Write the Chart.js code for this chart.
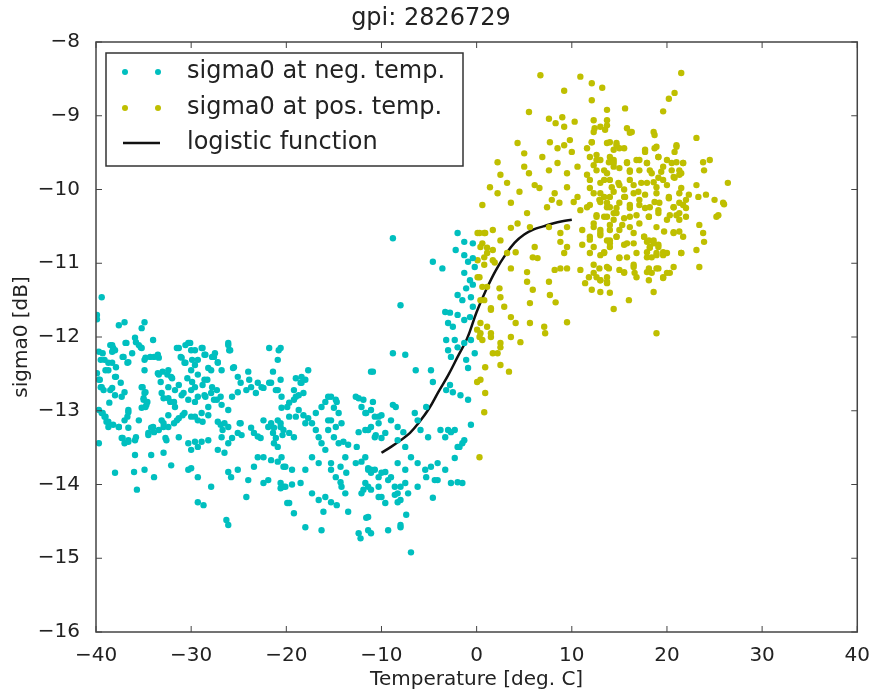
<!DOCTYPE html>
<html>
<head>
<meta charset="utf-8">
<script src="https://cdn.jsdelivr.net/npm/chart.js@4/dist/chart.umd.min.js"></script>
<style>
html, body { margin: 0; padding: 0; background: #fff; }
</style>
</head>
<body>
<canvas id="myChart" width="874" height="694"></canvas>
<script>
// sigma0 [dB] vs temperature
const negPoints = [
  [-39.4,-11.46],[-39.9,-11.70],[-39.9,-11.76],[-37.6,-11.84],[-37.0,-11.80],[-34.9,-11.80],[-35.2,-11.88],[-34.0,-12.04],
  [-35.9,-12.01],[-35.5,-12.11],[-35.2,-12.15],[-36.8,-12.08],[-38.3,-12.11],[-38.0,-12.18],[-39.7,-12.2],[-39.1,-12.31],
  [-37.1,-12.27],[-36.6,-12.34],[-38.3,-12.35],[-38.7,-12.45],[-38.0,-12.54],[-39.9,-12.49],[-39.6,-12.58],[-39.4,-12.68],
  [-34.9,-12.31],[-33.9,-12.27],[-33.4,-12.28],[-34.9,-12.45],[-33.4,-12.51],[-32.4,-12.45],[-32.1,-12.54],[-31.3,-12.15],
  [-30.3,-12.08],[-30.0,-12.18],[-28.9,-12.15],[-31.0,-12.28],[-30.7,-12.35],[-29.3,-12.31],[-28.6,-12.24],[-27.6,-12.27],
  [-27.2,-12.34],[-26.1,-12.08],[-26.0,-12.18],[-30.0,-12.45],[-29.3,-12.51],[-28.6,-12.58],[-27.9,-12.45],[-25.5,-12.41],
  [-35.2,-12.68],[-34.9,-12.76],[-35.0,-12.85],[-34.7,-12.92],[-35.2,-12.96],[-37.0,-12.75],[-37.3,-12.81],[-38.3,-12.69],
  [-38.0,-12.79],[-38.6,-12.89],[-33.1,-12.76],[-32.4,-12.83],[-31.8,-12.88],[-31.0,-12.79],[-30.0,-12.72],[-29.3,-12.81],
  [-28.6,-12.79],[-27.9,-12.76],[-27.6,-12.85],[-26.9,-12.81],[-25.1,-12.54],[-24.8,-12.62],[-24.0,-12.47],[-23.7,-12.68],
  [-23.0,-12.62],[-22.4,-12.69],[-21.6,-12.62],[-20.9,-12.72],[-21.8,-12.15],[-20.8,-12.18],[-20.9,-12.31],[-21.4,-12.47],
  [-39.7,-12.99],[-39.4,-13.03],[-39.1,-13.08],[-38.9,-13.15],[-38.7,-13.22],[-36.6,-13.02],[-37.0,-13.13],[-34.2,-13.23],
  [-34.5,-13.3],[-33.9,-13.29],[-37.6,-13.22],[-37.3,-13.37],[-37.0,-13.44],[-39.7,-13.44],[-33.1,-13.13],[-32.9,-13.22],
  [-32.4,-13.06],[-31.8,-13.17],[-31.3,-13.1],[-30.7,-13.03],[-30.0,-13.08],[-29.3,-13.13],[-28.9,-13.03],[-28.2,-13.06],
  [-27.2,-13.15],[-26.9,-13.19],[-26.5,-13.17],[-26.1,-13.22],[-26.7,-13.26],[-24.8,-13.17],[-25.1,-13.3],[-23.7,-13.23],
  [-23.4,-13.3],[-23.0,-13.35],[-22.7,-13.37],[-22.4,-13.13],[-21.9,-13.22],[-21.6,-13.17],[-21.3,-13.23],[-20.9,-13.13],
  [-20.6,-13.22],[-21.4,-13.3],[-21.1,-13.37],[-20.4,-13.33],[-21.3,-13.44],[-20.9,-13.49],[-19.9,-12.95],[-19.7,-13.08],
  [-36.6,-13.42],[-35.9,-13.4],[-32.6,-13.4],[-32.9,-13.57],[-30.3,-13.44],[-30.0,-13.53],[-29.3,-13.49],[-28.9,-13.42],
  [-27.2,-13.53],[-26.5,-13.57],[-26.1,-13.44],[-35.9,-13.6],[-34.2,-13.6],[-32.1,-13.74],[-30.3,-13.8],[-30.0,-13.78],
  [-38.0,-13.84],[-36.0,-13.83],[-34.9,-13.8],[-33.9,-13.9],[-29.3,-13.9],[-27.9,-14.03],[-26.1,-13.83],[-25.8,-13.9],
  [-25.1,-13.8],[-24.0,-13.94],[-23.4,-13.76],[-35.7,-14.07],[-29.3,-14.24],[-28.7,-14.28],[-26.3,-14.48],[-26.1,-14.55],
  [-24.2,-14.17],[-22.4,-13.98],[-21.9,-13.94],[-20.6,-14.05],[-20.3,-14.03],[-19.9,-14.25],[-23.0,-13.63],[-22.4,-13.63],
  [-21.6,-13.67],[-20.9,-13.69],[-20.3,-13.76],
  [-20.6,-12.15],[-20.6,-12.58],[-19.0,-12.56],[-18.5,-12.62],[-18.0,-12.58],[-17.7,-12.45],[-19.2,-12.72],[-18.7,-12.79],
  [-18.2,-12.76],[-20.5,-12.96],[-19.7,-12.89],[-19.2,-12.85],[-18.7,-12.99],[-18.2,-13.06],[-17.7,-13.1],[-20.6,-13.17],
  [-20.3,-13.26],[-19.7,-13.3],[-19.2,-13.36],[-17.3,-13.17],[-16.9,-13.26],[-16.6,-13.36],[-16.3,-13.44],[-15.9,-13.53],
  [-15.9,-12.88],[-15.3,-12.81],[-14.7,-12.88],[-15.0,-12.96],[-14.5,-13.03],[-15.6,-13.13],[-14.8,-13.22],[-15.6,-13.26],
  [-15.0,-13.36],[-14.5,-13.44],[-12.4,-12.83],[-12.1,-12.95],[-11.6,-13.03],[-10.9,-12.88],[-12.4,-13.29],[-11.7,-13.26],
  [-11.1,-13.22],[-10.6,-13.33],[-10.0,-13.37],[-14.0,-13.42],[-13.5,-13.46],[-12.6,-13.49],[-8.8,-12.92],[-8.5,-12.95],
  [-9.0,-13.13],[-8.3,-13.22],[-7.7,-13.29],[-11.1,-12.47],[-8.8,-12.22],[-7.5,-12.24],[-6.4,-12.45],[-4.8,-12.45],
  [-4.6,-12.61],[-6.5,-13.03],[-6.2,-13.13],[-5.3,-12.95],[-5.9,-13.26],[-5.1,-13.36],[-3.8,-13.26],[-3.3,-13.36],
  [-2.7,-13.29],[-1.8,-13.49],[-1.5,-13.44],[-0.6,-13.19],[-20.5,-13.63],[-20.1,-13.76],[-19.4,-13.8],[-20.6,-13.98],
  [-20.1,-14.03],[-19.4,-14.0],[-18.5,-13.98],[-18.0,-13.8],[-17.3,-13.63],[-16.6,-13.71],[-17.3,-14.12],[-16.6,-14.21],
  [-15.9,-14.17],[-15.3,-14.24],[-14.7,-14.28],[-15.3,-13.8],[-14.8,-13.9],[-14.3,-13.97],[-14.2,-14.03],[-13.8,-14.12],
  [-12.7,-13.71],[-12.1,-13.69],[-11.4,-13.8],[-11.1,-13.84],[-10.3,-13.9],[-9.6,-13.83],[-9.3,-13.94],[-8.6,-14.03],
  [-8.3,-14.12],[-8.0,-14.21],[-7.5,-13.98],[-6.9,-13.63],[-6.2,-13.71],[-5.4,-13.8],[-4.8,-13.76],[-4.1,-13.71],
  [-6.2,-14.03],[-5.3,-13.9],[-4.4,-13.94],[-3.3,-13.8],[-2.7,-13.98],[-2.0,-13.97],[-4.6,-14.18],[-19.7,-14.25],
  [-19.2,-14.39],[-18.0,-14.58],[-16.3,-14.62],[-16.1,-14.37],[-13.5,-14.37],[-12.4,-14.66],[-12.2,-14.73],[-11.4,-14.62],
  [-11.1,-14.66],[-9.3,-14.62],[-8.0,-14.58],[-7.4,-14.41],[-11.6,-14.45],[-6.9,-14.92],[-11.9,-14.07],[-11.4,-14.03],
  [-10.3,-14.03],[-10.0,-14.17],[-9.6,-14.25],[-8.6,-14.14],[-8.3,-14.24],[-13.8,-13.63],[-14.3,-13.76],[-13.7,-13.84],
  [-15.3,-13.71],
  [-2.0,-10.59],[-1.3,-10.71],[-0.4,-10.73],[-2.2,-10.82],[-1.3,-10.89],[-0.9,-10.98],[-0.4,-10.93],[-0.2,-11.05],
  [-1.3,-11.13],[-0.7,-11.23],[-0.4,-11.29],[-1.1,-11.34],[-2.0,-11.43],[-1.5,-11.5],[-0.6,-11.46],[-3.3,-11.66],
  [-2.8,-11.67],[-3.0,-11.81],[-2.5,-11.86],[-2.0,-11.7],[-1.3,-11.77],[-0.7,-11.73],[-0.4,-11.59],[-3.2,-12.04],
  [-2.3,-12.04],[-2.0,-12.14],[-1.3,-12.08],[-0.6,-12.04],[-3.0,-12.18],[-2.7,-12.27],[-1.1,-12.31],[-0.2,-12.22],
  [-0.9,-12.42],[-2.8,-12.65],[-3.2,-12.72],[-2.5,-12.75],[-1.7,-12.79],[-0.9,-12.85],[-3.0,-13.26],[-2.3,-13.26],
  [-2.0,-13.49],[-1.3,-13.4],[-2.3,-13.64],[-1.5,-13.98],[-4.1,-13.94],[-8.8,-10.66],[-4.6,-10.98],[-3.6,-11.07],
  [-8.0,-11.57],[-10.9,-12.47],[-11.9,-12.85],[-11.1,-12.99],[-10.3,-13.08],[-11.4,-13.26],[-10.7,-13.36],[-9.6,-13.3],
  [-8.3,-13.4],[-7.5,-13.49],[-8.3,-13.71],[-7.5,-13.8],[-9.0,-13.9],[-8.0,-14.03],[-7.2,-14.12],[-11.7,-13.63],
  [-11.1,-13.8],[-12.1,-14.12],[-11.4,-14.44],[-8.0,-14.55],[-12.7,-12.81],[-11.7,-13.03],[-10.7,-13.08],[-10.0,-13.06],
  [-10.3,-13.17],[-11.4,-13.78],[-10.7,-13.8],[-10.0,-13.84],[-11.7,-13.98],[-11.1,-14.07],[-10.3,-14.17],[-19.0,-12.81],
  [-18.4,-12.62],[-18.4,-12.54],[-15.6,-12.81],[-14.8,-12.85],[-16.3,-12.95],[-16.9,-13.03],[-15.3,-13.13],[-14.2,-13.17],
  [-18.0,-13.17],[-19.0,-13.08],[-22.6,-12.68],[-21.8,-12.62],[-21.1,-12.72],[-20.5,-12.81],[-23.9,-12.58],[-24.2,-12.72],
  [-23.2,-12.76],
  [-38.5,-12.11],[-38.2,-12.15],[-38.3,-12.2],[-39.3,-12.22],[-39.5,-12.31],[-36.9,-12.08],[-35.8,-12.07],[-35.3,-12.14],
  [-37.2,-12.27],[-36.2,-12.22],[-36.7,-12.35],[-38.7,-12.35],[-39.0,-12.45],[-37.9,-12.41],[-34.8,-12.28],[-34.3,-12.27],
  [-33.5,-12.24],[-31.5,-12.15],[-30.6,-12.11],[-30.1,-12.08],[-29.6,-12.18],[-28.8,-12.15],[-28.5,-12.24],[-27.8,-12.27],
  [-27.5,-12.22],[-31.1,-12.27],[-30.6,-12.35],[-29.9,-12.31],[-29.6,-12.38],[-28.2,-12.42],[-27.2,-12.35],[-26.8,-12.45],
  [-26.1,-12.11],[-25.9,-12.18],[-25.6,-12.42],[-39.7,-12.58],[-39.5,-12.68],[-39.2,-12.72],[-37.9,-12.54],[-37.4,-12.62],
  [-38.5,-12.72],[-35.1,-12.68],[-34.8,-12.75],[-35.0,-12.83],[-34.6,-12.88],[-34.8,-12.95],[-33.5,-12.49],[-33.0,-12.47],
  [-32.5,-12.51],[-32.0,-12.56],[-33.2,-12.61],[-32.4,-12.68],[-31.7,-12.72],[-31.3,-12.65],[-30.8,-12.76],[-30.4,-12.56],
  [-29.9,-12.61],[-29.6,-12.68],[-28.8,-12.65],[-28.3,-12.58],[-27.8,-12.68],[-27.3,-12.72],[-32.9,-12.83],[-32.2,-12.88],
  [-31.7,-12.95],[-30.3,-12.85],[-29.6,-12.88],[-28.5,-12.81],[-28.2,-12.95],[-27.3,-12.85],[-26.8,-12.92],[-26.1,-12.99],
  [-25.7,-12.81],[-25.1,-12.75],[-39.3,-13.03],[-39.0,-13.08],[-38.7,-13.15],[-38.2,-13.19],[-36.6,-12.99],[-36.7,-13.08],
  [-35.5,-13.13],[-37.6,-13.22],[-36.6,-13.23],[-34.0,-13.22],[-33.4,-13.26],[-32.9,-13.17],[-32.4,-13.22],[-31.5,-13.13],
  [-30.9,-13.06],[-29.6,-13.08],[-28.8,-13.15],[-24.9,-13.17],[-24.7,-13.33],[-37.2,-13.37],[-36.6,-13.4],[-35.8,-13.36],
  [-34.5,-13.33],[-32.7,-13.37],[-31.3,-13.36],[-29.6,-13.42],[-28.2,-13.4],[-26.8,-13.36],[-25.7,-13.37]
];

const posPoints = [
  [6.7,-8.45],[10.9,-8.47],[12.1,-8.56],[13.2,-8.62],[9.2,-8.66],[12.1,-8.79],[5.5,-8.95],[13.7,-8.92],
  [21.5,-8.42],[20.8,-8.69],[20.2,-8.77],[19.6,-8.94],[15.6,-8.9],[23.1,-9.3],[26.4,-9.91],[26.0,-10.2],
  [23.4,-11.05],[18.9,-11.95],[14.4,-11.62],[16.0,-11.5],[18.6,-11.39],
  [7.6,-9.04],[8.3,-9.1],[9.0,-9.02],[9.2,-9.15],[10.3,-9.08],[12.3,-9.06],[12.4,-9.17],[13.5,-9.19],[13.7,-9.06],
  [4.3,-9.37],[5.0,-9.51],[7.7,-9.36],[8.5,-9.44],[9.2,-9.4],[9.8,-9.33],[10.0,-9.49],[11.6,-9.44],[12.1,-9.36],
  [12.6,-9.53],[14.0,-9.36],[14.4,-9.46],
  [2.2,-9.63],[2.5,-9.8],[5.0,-9.69],[5.5,-9.78],[6.9,-9.56],[7.6,-9.74],[8.5,-9.64],[9.5,-9.78],[10.6,-9.69],
  [11.6,-9.8],[12.3,-9.67],[13.4,-9.74],[14.4,-9.6],
  [1.4,-9.97],[2.2,-10.05],[3.2,-9.91],[4.5,-10.03],[6.1,-9.94],[6.6,-9.98],[8.2,-10.05],[9.5,-9.97],[10.6,-10.1],
  [11.9,-9.98],[13.0,-10.05],[14.0,-10.1],
  [0.6,-10.21],[3.6,-10.18],[5.3,-10.32],[7.4,-10.24],[7.9,-10.14],[8.7,-10.18],[10.2,-10.17],[10.9,-10.28],
  [11.6,-10.24],[12.6,-10.37],[13.7,-10.24],[14.4,-10.32],
  [0.1,-10.59],[0.8,-10.59],[1.7,-10.55],[2.5,-10.69],[3.6,-10.52],[4.3,-10.46],[5.6,-10.51],[7.6,-10.51],
  [8.8,-10.59],[9.5,-10.51],[11.1,-10.55],[12.3,-10.46],[13.0,-10.62],[14.0,-10.55],
  [0.4,-10.78],[1.1,-10.86],[1.7,-10.96],[3.2,-10.86],[4.1,-10.85],[6.1,-10.78],[5.9,-10.92],[6.4,-10.93],
  [8.8,-10.71],[9.5,-10.78],[9.2,-10.86],[11.1,-10.75],[11.9,-10.68],[12.3,-10.78],[13.4,-10.85],[14.0,-10.73],
  [0.1,-10.96],[0.8,-11.02],[1.9,-10.99],[3.6,-11.07],[5.3,-11.12],[8.2,-11.09],[8.8,-11.07],[9.5,-11.07],
  [10.9,-11.09],[11.8,-11.19],[12.3,-11.13],[13.0,-11.23],[13.7,-11.19],
  [0.1,-11.19],[1.1,-11.32],[2.4,-11.34],[5.3,-11.25],[5.9,-11.36],[7.6,-11.25],[7.7,-11.43],[8.3,-11.53],
  [11.4,-11.27],[12.1,-11.36],[13.0,-11.39],[14.0,-11.4],
  [0.4,-11.5],[1.5,-11.61],[2.5,-11.46],[2.9,-11.59],[3.6,-11.73],[4.1,-11.81],[5.6,-11.54],[5.6,-11.81],
  [7.1,-11.86],[7.2,-11.95],[9.5,-11.8],
  [0.4,-11.95],[1.1,-11.86],[1.5,-12.0],[2.5,-12.08],[3.6,-12.0],[4.6,-12.07],[2.2,-12.22],[2.5,-12.38],
  [3.4,-12.47],[0.9,-12.41],[0.4,-12.58],[0.9,-12.76],[0.8,-13.02],[0.3,-13.63],
  [13.0,-9.15],[13.7,-9.13],[15.8,-9.17],[16.3,-9.22],[18.6,-9.22],[18.7,-9.26],
  [14.7,-9.37],[15.0,-9.44],[17.7,-9.49],[18.7,-9.44],[19.1,-9.56],[21.0,-9.4],[20.8,-9.49],
  [13.0,-9.6],[13.9,-9.63],[14.4,-9.69],[15.8,-9.64],[16.1,-9.74],[17.1,-9.6],[17.9,-9.64],[18.2,-9.74],
  [19.6,-9.69],[20.5,-9.64],[21.3,-9.74],[21.7,-9.64],[23.8,-9.63],[24.5,-9.6],[23.9,-9.74],
  [13.4,-9.87],[14.2,-9.97],[14.9,-9.91],[15.5,-10.0],[16.5,-9.94],[17.0,-10.03],[17.9,-9.91],[18.9,-9.97],
  [19.1,-9.84],[20.0,-9.94],[20.7,-9.83],[21.3,-9.8],[21.5,-9.98],[23.1,-9.94],
  [12.9,-10.14],[13.7,-10.18],[14.7,-10.25],[15.6,-10.1],[16.1,-10.21],[17.1,-10.14],[17.7,-10.25],[18.7,-10.17],
  [19.1,-10.28],[20.2,-10.1],[20.7,-10.24],[21.3,-10.18],[22.3,-10.07],[22.0,-10.25],[23.3,-10.1],[24.1,-10.07],
  [25.0,-10.14],[25.9,-10.18],
  [13.4,-10.37],[14.4,-10.41],[15.3,-10.48],[16.1,-10.37],[17.1,-10.46],[18.1,-10.37],[18.9,-10.51],[20.0,-10.41],
  [21.0,-10.35],[21.3,-10.41],[22.0,-10.37],[23.4,-10.48],[23.8,-10.59],[25.2,-10.37],[25.4,-10.35],
  [13.0,-10.59],[14.0,-10.69],[14.7,-10.64],[15.8,-10.73],[16.5,-10.59],[17.6,-10.64],[17.9,-10.71],[18.2,-10.78],
  [18.6,-10.69],[19.1,-10.75],[19.7,-10.57],[20.7,-10.59],[21.3,-10.57],[23.1,-10.82],[23.9,-10.71],
  [13.4,-10.86],[14.0,-10.78],[15.0,-10.93],[15.8,-10.92],[17.9,-10.85],[18.4,-10.92],[18.9,-10.86],[19.6,-10.89],
  [21.5,-10.86],
  [12.9,-11.07],[13.9,-11.07],[15.5,-11.12],[16.5,-11.02],[16.6,-11.13],[18.1,-11.07],[18.4,-11.13],[19.1,-11.07],
  [19.6,-11.2],[20.3,-11.13],[13.0,-11.23],[13.7,-11.27],
  [0.3,-10.59],[0.9,-10.59],[0.6,-10.73],[1.1,-10.79],[1.7,-10.82],[0.8,-10.92],[0.3,-11.19],[0.6,-11.32],
  [0.8,-11.5],[1.5,-11.63],[0.4,-11.81],[0.05,-11.9],[0.3,-12.0],[1.5,-11.95],[0.6,-12.04],[2.5,-12.14],
  [1.7,-12.22],[0.05,-12.61],
  [12.3,-9.22],[16.1,-9.23],[12.1,-9.36],[13.7,-9.37],[14.7,-9.4],[15.5,-9.44],[17.7,-9.46],[18.9,-9.42],
  [21.0,-9.42],[11.9,-9.56],[12.6,-9.6],[14.0,-9.56],[14.4,-9.64],[15.8,-9.63],[16.8,-9.6],[17.9,-9.64],
  [19.1,-9.56],[20.0,-9.6],[21.0,-9.63],[12.6,-9.74],[13.7,-9.78],[15.0,-9.71],[16.1,-9.76],[17.1,-9.74],
  [18.4,-9.78],[19.4,-9.76],[20.5,-9.74],[21.7,-9.64],[21.5,-9.78],[11.9,-9.87],[13.0,-9.91],[14.0,-9.87],
  [15.0,-9.94],[16.1,-9.87],[17.3,-9.91],[18.6,-9.9],[19.6,-9.87],[20.8,-9.84],[12.3,-10.05],[13.4,-10.1],
  [14.4,-10.03],[15.5,-10.1],[16.5,-10.05],[17.7,-10.07],[18.9,-10.05],[20.2,-10.12],[21.3,-10.05],[22.0,-10.14],
  [11.9,-10.21],[13.0,-10.17],[14.0,-10.24],[15.0,-10.18],[16.1,-10.25],[17.1,-10.21],[18.2,-10.24],[19.2,-10.18],
  [20.7,-10.24],[21.7,-10.21],[12.6,-10.35],[13.7,-10.37],[14.7,-10.32],[15.5,-10.39],[16.8,-10.35],[18.1,-10.37],
  [19.1,-10.32],[20.3,-10.35],[21.3,-10.32],[12.3,-10.51],[13.0,-10.55],[14.0,-10.48],[15.0,-10.55],[16.1,-10.51],
  [17.6,-10.64],[18.1,-10.69],[18.6,-10.73],[18.2,-10.79],[19.1,-10.78],[19.6,-10.85],[11.9,-10.64],[13.7,-10.69],
  [14.7,-10.64],[15.5,-10.75],[16.5,-10.73],[20.7,-10.58],[21.7,-10.64],[11.9,-10.86],[13.0,-10.89],[15.0,-10.92],
  [16.8,-10.86],[17.9,-10.92],[18.9,-10.89],[20.0,-10.86],[21.5,-10.86],[12.3,-11.02],[13.7,-11.05],[15.0,-11.09],
  [16.5,-11.05],[17.9,-11.12],[18.9,-11.07],[20.0,-11.13],[20.7,-11.05],[12.6,-11.19],[13.7,-11.25],[15.5,-11.13],
  [16.8,-11.19],[18.1,-11.23],[19.6,-11.19]
];

// logistic fit, read at each degree
const curveTemp = [-10, -9, -8, -7, -6, -5, -4, -3, -2, -1, 0, 1, 2, 3, 4, 5, 6, 7, 8, 9, 10];
const curveSigma = [-13.57, -13.49, -13.40, -13.30, -13.15, -12.97, -12.74, -12.52, -12.27, -12.02, -11.66,
                    -11.36, -11.10, -10.89, -10.72, -10.61, -10.54, -10.50, -10.46, -10.43, -10.41];

const xTicks = [-40, -30, -20, -10, 0, 10, 20, 30, 40];
const yTicks = [-16, -15, -14, -13, -12, -11, -10, -9, -8];

const seriesLabels = ['sigma0 at neg. temp.', 'sigma0 at pos. temp.', 'logistic function'];
const CYAN = '#00bfbf';
const OLIVE = '#bfbf00';
const TEXT = '#222';

Chart.defaults.font.family = '"DejaVu Sans", sans-serif';
Chart.defaults.color = TEXT;

const fmt = v => (v < 0 ? '\u2212' + Math.abs(v) : String(v));
const toXY = p => ({ x: p[0], y: p[1] });

// frame with inward ticks, plus the matplotlib-style legend inside the axes
const framePlugin = {
  id: 'frame',
  afterDraw(chart) {
    const { ctx, chartArea: a, scales } = chart;
    ctx.save();
    ctx.strokeStyle = '#444';
    ctx.lineWidth = 1.5;
    ctx.strokeRect(a.left, a.top, a.right - a.left, a.bottom - a.top);
    ctx.lineWidth = 1;
    ctx.beginPath();
    xTicks.forEach(v => {
      const px = scales.x.getPixelForValue(v);
      ctx.moveTo(px, a.bottom); ctx.lineTo(px, a.bottom - 6);
      ctx.moveTo(px, a.top); ctx.lineTo(px, a.top + 6);
    });
    yTicks.forEach(v => {
      const py = scales.y.getPixelForValue(v);
      ctx.moveTo(a.left, py); ctx.lineTo(a.left + 6, py);
      ctx.moveTo(a.right, py); ctx.lineTo(a.right - 6, py);
    });
    ctx.stroke();

    // legend
    const lx = a.left + 10, ly = a.top + 11;
    ctx.fillStyle = '#fff';
    ctx.fillRect(lx, ly, 357, 113);
    ctx.strokeStyle = '#333';
    ctx.lineWidth = 1.5;
    ctx.strokeRect(lx, ly, 357, 113);
    const rows = [ly + 19, ly + 55, ly + 90];
    ctx.font = '24px "DejaVu Sans"';
    ctx.textBaseline = 'middle';
    ctx.textAlign = 'left';
    [CYAN, OLIVE].forEach((c, i) => {
      ctx.fillStyle = c;
      [lx + 19, lx + 52].forEach(cx => {
        ctx.beginPath(); ctx.arc(cx, rows[i], 3, 0, Math.PI * 2); ctx.fill();
      });
    });
    ctx.strokeStyle = '#111';
    ctx.lineWidth = 2.5;
    ctx.beginPath(); ctx.moveTo(lx + 17, rows[2]); ctx.lineTo(lx + 54, rows[2]); ctx.stroke();
    ctx.fillStyle = TEXT;
    seriesLabels.forEach((t, i) => ctx.fillText(t, lx + 81, rows[i]));
    ctx.restore();
  }
};

new Chart(document.getElementById('myChart'), {
  type: 'scatter',
  data: {
    datasets: [
      {
        label: seriesLabels[0],
        data: negPoints.map(toXY),
        backgroundColor: CYAN,
        borderWidth: 0,
        pointRadius: 3.2,
        pointHoverRadius: 3.2
      },
      {
        label: seriesLabels[1],
        data: posPoints.map(toXY),
        backgroundColor: OLIVE,
        borderWidth: 0,
        pointRadius: 3.2,
        pointHoverRadius: 3.2
      },
      {
        type: 'line',
        label: seriesLabels[2],
        data: curveTemp.map((t, i) => ({ x: t, y: curveSigma[i] })),
        borderColor: '#111',
        borderWidth: 2.5,
        pointRadius: 0,
        fill: false,
        tension: 0.4
      }
    ]
  },
  options: {
    responsive: false,
    animation: false,
    devicePixelRatio: 1,
    layout: { padding: { top: 0, right: 12, bottom: 0, left: 0 } },
    plugins: {
      legend: { display: false },
      tooltip: { enabled: false },
      title: {
        display: true,
        text: 'gpi: 2826729',
        font: { size: 24, weight: 'normal' },
        color: TEXT,
        padding: { top: 4, bottom: 9.2 }
      }
    },
    scales: {
      x: {
        type: 'linear',
        min: -40,
        max: 40,
        afterBuildTicks: s => { s.ticks = xTicks.map(v => ({ value: v })); },
        afterFit: s => { s.height = 62; },
        ticks: { callback: fmt, font: { size: 20 }, color: TEXT, padding: 4, maxRotation: 0 },
        grid: { display: false },
        border: { display: false },
        title: {
          display: true,
          text: 'Temperature [deg. C]',
          font: { size: 20 },
          color: TEXT,
          padding: { top: 0, bottom: 2 }
        }
      },
      y: {
        type: 'linear',
        min: -16,
        max: -8,
        afterBuildTicks: s => { s.ticks = yTicks.map(v => ({ value: v })); },
        afterFit: s => { s.width = 96; },
        ticks: { callback: fmt, font: { size: 20 }, color: TEXT, padding: 8 },
        grid: { display: false },
        border: { display: false },
        title: {
          display: true,
          text: 'sigma0 [dB]',
          font: { size: 20 },
          color: TEXT,
          padding: { top: 10, bottom: 0 }
        }
      }
    }
  },
  plugins: [framePlugin]
});
</script>
</body>
</html>
